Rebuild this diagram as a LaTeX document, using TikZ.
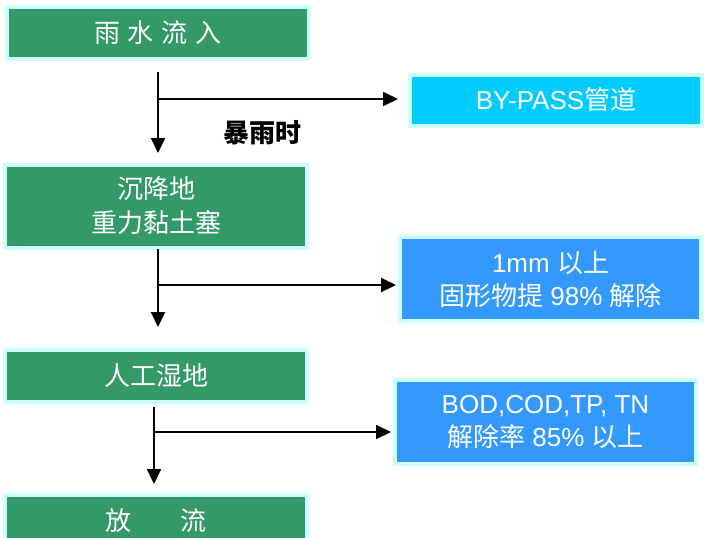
\documentclass[tikz,border=0pt]{standalone}
\usepackage{fontspec}
\setmainfont{Noto Sans CJK SC}
\newfontfamily\lat{Liberation Sans}
\usetikzlibrary{arrows.meta}
\definecolor{gbox}{HTML}{339966}
\definecolor{edge}{HTML}{CCFFFF}
\definecolor{cbox}{HTML}{00CCFF}
\definecolor{bbox}{HTML}{3399FF}
\tikzset{
  stage/.style={fill=gbox, draw=edge, line width=4pt, minimum width=302pt, inner sep=0pt, text=white, align=center, font=\fontsize{26}{34}\selectfont},
  note/.style={draw=edge, line width=4pt, minimum width=301pt, minimum height=84pt, inner sep=0pt, text=white, align=center, font=\fontsize{26}{33}\selectfont},
  arr/.style={line width=2pt, -{Triangle[width=14pt,length=15pt]}},
  ln/.style={line width=2pt}
}
\begin{document}
\begin{tikzpicture}[x=1pt,y=-1pt]
\useasboundingbox (0,0) rectangle (704,538);
\clip (0,0) rectangle (704,538);
\fill[white] (0,0) rectangle (704,538);
% stages
\node[stage, minimum height=52pt] (in) at (158,33) {雨\hspace{8pt}水\hspace{8pt}流\hspace{8pt}入};
\node[stage, minimum height=83pt] (sed) at (156,206) {沉降地\\重力黏土塞};
\node[stage, minimum height=52pt] (wet) at (156,376) {人工湿地};
\node[stage, minimum height=52pt] (out) at (156,521) {放\hspace{50pt}流};
% notes
\node[note, fill=cbox, minimum width=292pt, minimum height=51pt] (bp) at (556,100) {{\lat BY-PASS}管道};
\node[note, fill=bbox] (ss) at (550.5,279) {{\lat 1mm }以上\\固形物提{\lat{} 98\% }解除};
\node[note, fill=bbox] (bod) at (545.5,422) {{\lat BOD,COD,TP, TN}\\解除率{\lat{} 85\% }以上};
% label
\node[font=\fontsize{26}{30}\selectfont\bfseries] (storm) at (262,133) {暴雨时};
% connector points
\coordinate (s1) at (158,72);
\coordinate (e1) at (158,153);
\coordinate (j1) at (158,99);
\coordinate (s2) at (158,249);
\coordinate (e2) at (158,327);
\coordinate (j2) at (158,285);
\coordinate (s3) at (154,407);
\coordinate (e3) at (154,484);
\coordinate (j3) at (154,432);
% connectors
\draw[arr] (s1) -- (e1);
\draw[arr, shorten >=10pt] (j1) -- (j1 -| bp.west);
\draw[arr] (s2) -- (e2);
\draw[arr, shorten >=2pt] (j2) -- (j2 -| ss.west);
\draw[arr] (s3) -- (e3);
\draw[arr, shorten >=2pt] (j3) -- (j3 -| bod.west);
\end{tikzpicture}
\end{document}
